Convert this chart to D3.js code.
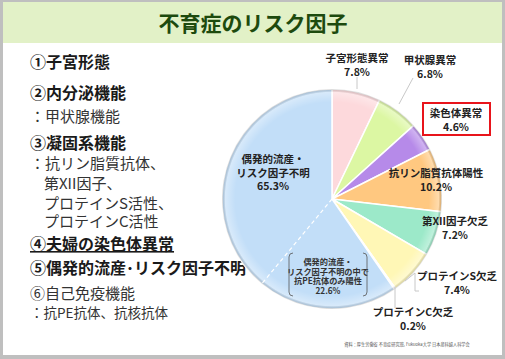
<!DOCTYPE html>
<html lang="ja">
<head>
<meta charset="UTF-8">
<title>不育症のリスク因子</title>
<script src="https://d3js.org/d3.v7.min.js"></script>
<style>
  body { margin: 0; background: #fff; }
  svg { display: block; font-family: "Noto Sans CJK JP", "Noto Sans", sans-serif; }
</style>
</head>
<body>
<svg id="chart" width="505" height="359"></svg>
<script>
// data
const categories = ["子宮形態異常", "甲状腺異常", "染色体異常", "抗リン脂質抗体陽性",
                    "第XII因子欠乏", "プロテインS欠乏", "プロテインC欠乏", "偶発的流産・リスク因子不明"];
const values = [7.8, 6.8, 4.6, 10.2, 7.2, 7.4, 0.2, 65.3];
const peOnly = 22.6;   // part of the last slice: 抗PE抗体のみ陽性
const colors = ["#fdd9dc", "#dcf7a3", "#b68ae9", "#ffc880", "#9ce9c9", "#fff7b6", "#cfe9f7", "#c2def8"];

const listItems = [
  { t: "①子宮形態", bold: true },
  { t: "②内分泌機能", bold: true },
  { t: "：甲状腺機能" },
  { t: "③凝固系機能", bold: true },
  { t: "：抗リン脂質抗体、" },
  { t: "　第XII因子、" },
  { t: "　プロテインS活性、" },
  { t: "　プロテインC活性" },
  { t: "④夫婦の染色体異常", bold: true, underline: true },
  { t: "⑤偶発的流産･リスク因子不明", bold: true },
  { t: "⑥自己免疫機能" },
  { t: "：抗PE抗体、抗核抗体", small: true }
];

const svg = d3.select("#chart");

// frame + title band
svg.append("rect").attr("width", 505).attr("height", 359).attr("fill", "#bfbfbf");
svg.append("rect").attr("x", 3).attr("y", 2).attr("width", 499).attr("height", 353).attr("fill", "#fff");
svg.append("rect").attr("x", 3).attr("y", 2).attr("width", 499).attr("height", 41).attr("fill", "#e2f1c7");
svg.append("text").attr("x", 253).attr("y", 31).attr("text-anchor", "middle")
  .attr("font-size", 21).attr("font-weight", "bold").attr("fill", "#1d4a0e")
  .text("不育症のリスク因子");

// left list
const listY = [68, 99, 122, 149, 169, 189, 209, 227, 250, 274, 299, 318];
const lst = svg.append("g");
listItems.forEach((d, i) => {
  const t = lst.append("text")
    .attr("x", d.t.startsWith("　") ? 29 : 30)
    .attr("y", listY[i])
    .attr("font-size", d.small ? 13.5 : (d.bold ? 16 : 15))
    .attr("font-weight", d.bold ? "bold" : "normal")
    .attr("fill", d.bold ? "#1a1a1a" : "#333")
    .text(d.t);
  if (d.underline) t.attr("text-decoration", "underline");
});

// pie
const cx = 332, cy = 199, R = 110;
const total = d3.sum(values);
const pie = d3.pie().sort(null).value(d => d);
const arcs = pie(values);
const arc = d3.arc().innerRadius(0).outerRadius(R);
const g = svg.append("g").attr("transform", `translate(${cx},${cy})`);

const defs = svg.append("defs");
const rg = defs.append("radialGradient").attr("id", "bevel")
  .attr("gradientUnits", "userSpaceOnUse").attr("cx", 0).attr("cy", 0).attr("r", R);
rg.append("stop").attr("offset", "0.88").attr("stop-color", "#fff").attr("stop-opacity", 0);
rg.append("stop").attr("offset", "0.97").attr("stop-color", "#fff").attr("stop-opacity", 0.35);
rg.append("stop").attr("offset", "1").attr("stop-color", "#000").attr("stop-opacity", 0.12);

g.selectAll("path.slice").data(arcs).join("path")
  .attr("class", "slice")
  .attr("d", arc)
  .attr("fill", (d, i) => colors[i])
  .attr("stroke", "#fff").attr("stroke-width", 1.5);
g.selectAll("path.bev").data(arcs).join("path")
  .attr("class", "bev")
  .attr("d", arc)
  .attr("fill", "url(#bevel)")
  .attr("stroke", "none");

// dashed divider inside the big slice
const big = arcs[arcs.length - 1];
const divA = big.startAngle + (peOnly / total) * 2 * Math.PI;
g.append("line").attr("x1", 0).attr("y1", 0)
  .attr("x2", R * Math.sin(divA)).attr("y2", -R * Math.cos(divA))
  .attr("stroke", "#fff").attr("stroke-width", 1.2).attr("stroke-dasharray", "4,3");

// leader lines
const leaders = [
  [[357, 77], [357, 89]],
  [[413, 78], [399, 104]],
  [[405, 281], [415, 273], [415, 291], [419, 291]],
  [[395, 287], [395, 308]]
];
leaders.forEach(pts => {
  svg.append("path").attr("d", d3.line()(pts))
    .attr("fill", "none").attr("stroke", "#c8c8c8").attr("stroke-width", 1);
});

// slice labels
const labelPos = [[357, 62], [430, 64], [456, 117], [436, 177], [455, 225], [457, 280], [413, 316], [273, 163]];
const labelLines = [
  ["子宮形態異常"], ["甲状腺異常"], ["染色体異常"], ["抗リン脂質抗体陽性"],
  ["第XII因子欠乏"], ["プロテインS欠乏"], ["プロテインC欠乏"], ["偶発的流産・", "リスク因子不明"]
];
// red box around 染色体異常
svg.append("rect").attr("x", 423).attr("y", 103).attr("width", 67).attr("height", 32)
  .attr("fill", "#fff").attr("stroke", "#e8141b").attr("stroke-width", 2);

values.forEach((v, i) => {
  const [x, y] = labelPos[i];
  const t = svg.append("text").attr("x", x).attr("y", y).attr("text-anchor", "middle")
    .attr("font-size", 10.5).attr("font-weight", "bold").attr("fill", "#222");
  const lines = labelLines[i].concat([d3.format(".1f")(v) + "%"]);
  lines.forEach((s, k) => {
    t.append("tspan").attr("x", x).attr("dy", k === 0 ? 0 : 13.5).text(s);
  });
});

// inner label for the PE-only part
const inner = ["偶発的流産・", "リスク因子不明の中で", "抗PE抗体のみ陽性", d3.format(".1f")(peOnly) + "%"];
const it = svg.append("text").attr("x", 328).attr("y", 265).attr("text-anchor", "middle")
  .attr("font-size", 8.2).attr("font-weight", "bold").attr("fill", "#333");
inner.forEach((s, k) => it.append("tspan").attr("x", 328).attr("dy", k === 0 ? 0 : 9.6).text(s));
svg.append("path").attr("d", "M293,253 Q289,253 289,257 L289,292 Q289,296 293,296")
  .attr("fill", "none").attr("stroke", "#555").attr("stroke-width", 0.8);
svg.append("path").attr("d", "M363,253 Q367,253 367,257 L367,292 Q367,296 363,296")
  .attr("fill", "none").attr("stroke", "#555").attr("stroke-width", 0.8);

// source note
svg.append("text").attr("x", 407).attr("y", 346).attr("text-anchor", "middle")
  .attr("font-size", 4.2).attr("fill", "#555")
  .text("資料：厚生労働省 不育症研究班, Fukuoka大学 日本産科婦人科学会");
</script>
</body>
</html>
